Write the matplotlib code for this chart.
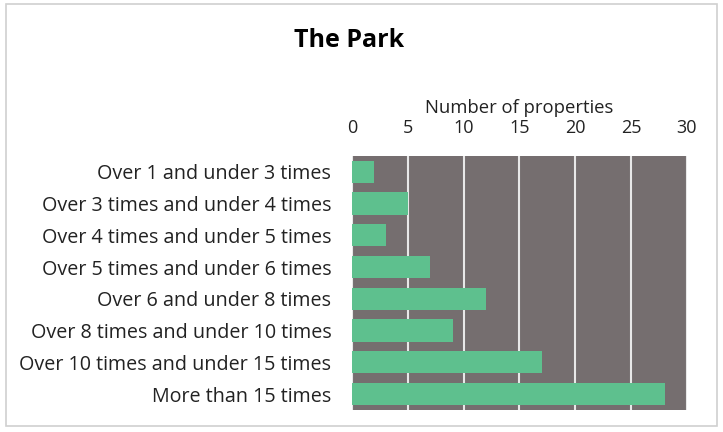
import matplotlib.pyplot as plt
from matplotlib.patches import Rectangle

plt.rcParams['font.family'] = ['Open Sans', 'DejaVu Sans']

categories = [
    "Over 1 and under 3 times",
    "Over 3 times and under 4 times",
    "Over 4 times and under 5 times",
    "Over 5 times and under 6 times",
    "Over 6 and under 8 times",
    "Over 8 times and under 10 times",
    "Over 10 times and under 15 times",
    "More than 15 times",
]
counts = [2, 5, 3, 7, 12, 9, 17, 28]
ticks = [0, 5, 10, 15, 20, 25, 30]

fig = plt.figure(figsize=(7.23, 4.32), dpi=100)
fig.patches.append(Rectangle((0.008, 0.015), 0.984, 0.975, transform=fig.transFigure,
                             fill=False, edgecolor='#d0d0d0', linewidth=1.2))
ax = fig.add_axes([0.487, 0.051, 0.463, 0.588])
ax.set_facecolor('#756e6f')

y = list(range(len(categories)))
ax.barh(y, counts, height=0.7, color='#5ec08e', zorder=3)
ax.set_yticks(y)
ax.set_yticklabels(categories, fontsize=14.2, color='#222222')
ax.set_ylim(len(categories) - 0.5, -0.5)

ax.set_xlim(0, 30)
ax.set_xticks(ticks)
ax.xaxis.tick_top()
ax.xaxis.set_label_position('top')
ax.tick_params(axis='x', labelsize=13, colors='#222222', length=0, pad=14)
ax.tick_params(axis='y', length=0, pad=15)
ax.set_xlabel("Number of properties", fontsize=13.3, color='#222222', labelpad=4)
ax.grid(axis='x', color='#e8e8e8', linewidth=1.5, zorder=1)
for s in ax.spines.values():
    s.set_visible(False)

fig.text(0.483, 0.907, "The Park", ha='center', va='center', fontsize=18, fontweight='bold')

fig.savefig("out.png", dpi=100)
